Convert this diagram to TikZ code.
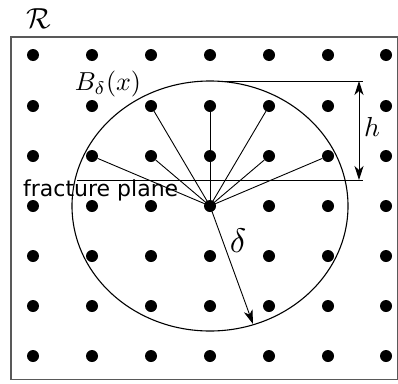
\documentclass[tikz,border=0pt]{standalone}
\usepackage{fontspec}
\newfontfamily\labelfont{DejaVu Sans}
\usetikzlibrary{arrows.meta}
\tikzset{
  gdot/.style={circle,fill=black,inner sep=0pt,minimum size=12pt},
  frameline/.style={draw=black!65,line width=1.2pt},
  thinline/.style={draw=black,line width=0.9pt},
  arr/.style={-{Stealth[length=14pt,width=9pt,inset=4pt]},line width=0.9pt},
  darr/.style={{Stealth[length=14pt,width=9pt,inset=4pt]}-{Stealth[length=14pt,width=9pt,inset=4pt]},line width=0.9pt},
  mlab/.style={inner sep=0pt},
}
\begin{document}
\begin{tikzpicture}[x=1pt,y=-1pt]
\useasboundingbox (0,0) rectangle (398,383);
\draw[frameline] (11,37) rectangle (397.5,379.5);
\foreach \i [count=\ci] in {33,92,151,210,269,328,386}{
  \foreach \j [count=\cj] in {55,106,156,206,256,306,356}{
    \node[gdot] (d\ci\cj) at (\i,\j) {};
  }
}
\draw[line width=1.1pt] (210,206) ellipse [x radius=138, y radius=125];
\foreach \t in {d23,d33,d32,d42,d52,d53,d63}{
  \draw[thinline] (d44.center) -- (\t);
}
\coordinate (ftl) at (77,180);
\coordinate (ftr) at (363,180);
\coordinate (htl) at (222,81);
\coordinate (htr) at (363,81);
\draw[thinline] (ftl) -- (ftr);
\draw[thinline] (htl) -- (htr);
\coordinate (ha) at (359,81);
\coordinate (hb) at (359,180);
\draw[darr] (ha) -- (hb);
\node[mlab,scale=2.75] (hlab) at (372,127) {$h$};
\coordinate (dend) at (253,324);
\draw[arr] (d44.center) -- (dend);
\node[mlab,scale=3.4] (dlab) at (238,241) {$\delta$};
\node[mlab,scale=2.6] (blab) at (108,84) {$B_\delta(x)$};
\node[mlab,scale=2.9] (rlab) at (39,19) {$\mathcal{R}$};
\node[anchor=west,inner sep=0pt] (fp) at (23,190) {\labelfont\fontsize{22}{26}\selectfont fracture plane};
\end{tikzpicture}
\end{document}
